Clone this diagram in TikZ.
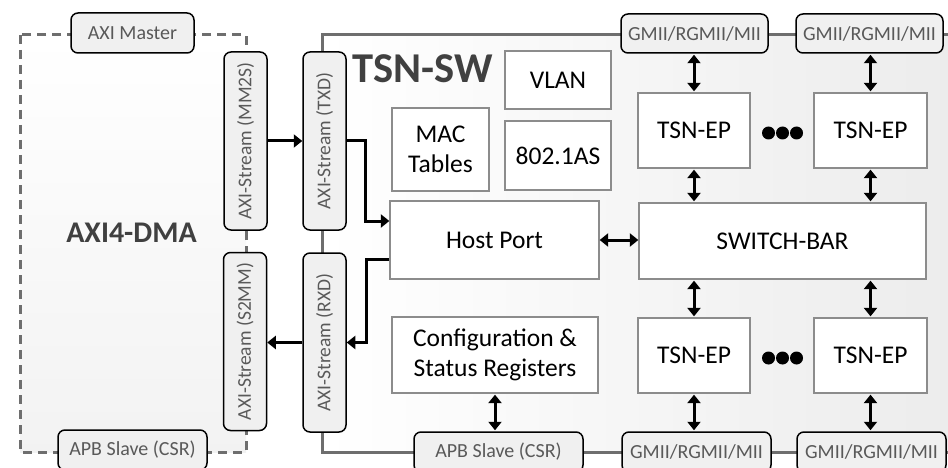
\documentclass[tikz,border=0pt]{standalone}
\usepackage{fontspec}
\setmainfont{Carlito}
\usetikzlibrary{arrows.meta}
\definecolor{ifgray}{HTML}{595959}
\definecolor{ifbg}{HTML}{F0F0F0}
\definecolor{framec}{HTML}{6E6E6E}
\definecolor{blkline}{HTML}{8C8C8C}
\definecolor{titlec}{HTML}{404040}
\begin{document}
\begin{tikzpicture}[x=1pt,y=-1pt,
  ifbox/.style={draw=black, line width=1.5pt, fill=ifbg, rounded corners=7pt, text=ifgray,
    font=\fontsize{20}{24}\selectfont, inner sep=0pt},
  vifbox/.style={ifbox, rotate=90, font=\fontsize{19.5}{24}\selectfont},
  blk/.style={draw=blkline, line width=1.3pt, fill=white, text=black,
    font=\fontsize{25.5}{30}\selectfont, align=center, inner sep=0pt},
  arr/.style={line width=3pt, -{Triangle[length=8.5pt,width=13pt]}},
  dbl/.style={line width=3pt, {Triangle[length=8.5pt,width=13pt]}-{Triangle[length=8.5pt,width=13pt]},
    shorten >=1pt, shorten <=1pt},
  ttl/.style={text=titlec, font=\bfseries\fontsize{30}{34}\selectfont, inner sep=0pt},
  frameline/.style={draw=framec, line width=3pt},
  dashline/.style={draw=framec, line width=3pt, dash pattern=on 9pt off 6pt}
]
\useasboundingbox (0,0) rectangle (948,468);
\clip (0,0) rectangle (948,468);
\fill[white] (0,0) rectangle (948,468);

% background regions
\shade[top color=white, bottom color=gray!10] (20,35) rectangle (246,452);
\shade[left color=white, right color=gray!15] (322,35) rectangle (960,452);
\draw[dashline] (20,35) rectangle (246,452);
\draw[frameline] (960,35) -- (322,35) -- (322,452) -- (960,452);

% titles
\node[ttl] (dmatitle) at (131.5,233) {AXI4-DMA};
\node[ttl, font=\bfseries\fontsize{42.5}{46}\selectfont] (swtitle) at (423,68.5) {TSN-SW};

% interface boxes
\node[ifbox, minimum width=123pt, minimum height=40pt] (axim) at (132.5,33) {AXI Master};
\node[ifbox, minimum width=149pt, minimum height=40pt] (apbl) at (132.5,450) {APB Slave (CSR)};
\node[vifbox, minimum width=178pt, minimum height=43pt] (mm2s) at (245.5,141) {AXI-Stream (MM2S)};
\node[vifbox, minimum width=178pt, minimum height=43pt] (s2mm) at (245,341.5) {AXI-Stream (S2MM)};
\node[vifbox, minimum width=178pt, minimum height=43pt] (txd) at (324.5,141) {AXI-Stream (TXD)};
\node[vifbox, minimum width=179pt, minimum height=43pt] (rxd) at (324.5,342.5) {AXI-Stream (RXD)};
\node[ifbox, minimum width=169pt, minimum height=40pt] (apbr) at (498.5,452) {APB Slave (CSR)};
\node[ifbox, minimum width=147pt, minimum height=39pt] (gtl) at (694.5,33.5) {GMII/RGMII/MII};
\node[ifbox, minimum width=147pt, minimum height=39pt] (gtr) at (869.5,33.5) {GMII/RGMII/MII};
\node[ifbox, minimum width=149pt, minimum height=40pt] (gbl) at (696.5,452) {GMII/RGMII/MII};
\node[ifbox, minimum width=149pt, minimum height=40pt] (gbr) at (871.5,452) {GMII/RGMII/MII};

% internal blocks
\node[blk, minimum width=106pt, minimum height=58pt] (vlan) at (558,80) {VLAN};
\node[blk, minimum width=97pt, minimum height=83pt] (mac) at (440.5,149.5) {MAC\\Tables};
\node[blk, minimum width=106pt, minimum height=69pt] (as) at (558,155.5) {802.1AS};
\node[blk, minimum width=209pt, minimum height=78pt] (host) at (494.5,240) {Host Port};
\node[blk, minimum width=206pt, minimum height=76pt] (csr) at (495,355) {Configuration \&\\Status Registers};
\node[blk, minimum width=112pt, minimum height=75pt] (eptl) at (694,130.5) {TSN-EP};
\node[blk, minimum width=113pt, minimum height=75pt] (eptr) at (870.5,130.5) {TSN-EP};
\node[blk, minimum width=287pt, minimum height=76pt] (switch) at (782.5,241) {SWITCH-BAR};
\node[blk, minimum width=112pt, minimum height=75pt] (epbl) at (694,355.5) {TSN-EP};
\node[blk, minimum width=113pt, minimum height=75pt] (epbr) at (870.5,355.5) {TSN-EP};

% dots
\foreach \cx in {768.5,782.5,796.5} {
  \fill[black] (\cx,133) circle (6.5pt);
  \fill[black] (\cx,358) circle (6.5pt);
}

% connectors (rotated nodes: south = right side, north = left side)
\draw[arr] (mm2s.south) -- (txd.north);
\draw[arr] (txd.south) -- ++(19,0) |- ([yshift=19pt]host.west);
\draw[arr] ([yshift=-19pt]host.west) -- ++(-23,0) |- (rxd.south);
\draw[arr] (rxd.north) -- (rxd.north -| s2mm.south);
\draw[dbl, shorten <=0pt, shorten >=0pt] (host.east) -- (host.east -| switch.west);
\draw[dbl] (csr.south) -- (csr.south |- apbr.north);
\draw[dbl] (gtl.south -| eptl.north) -- (eptl.north);
\draw[dbl] (gtr.south -| eptr.north) -- (eptr.north);
\draw[dbl] (eptl.south) -- (eptl.south |- switch.north);
\draw[dbl] (eptr.south) -- (eptr.south |- switch.north);
\draw[dbl] (epbl.north |- switch.south) -- (epbl.north);
\draw[dbl] (epbr.north |- switch.south) -- (epbr.north);
\draw[dbl] (epbl.south) -- (epbl.south |- gbl.north);
\draw[dbl] (epbr.south) -- (epbr.south |- gbr.north);
\end{tikzpicture}
\end{document}
